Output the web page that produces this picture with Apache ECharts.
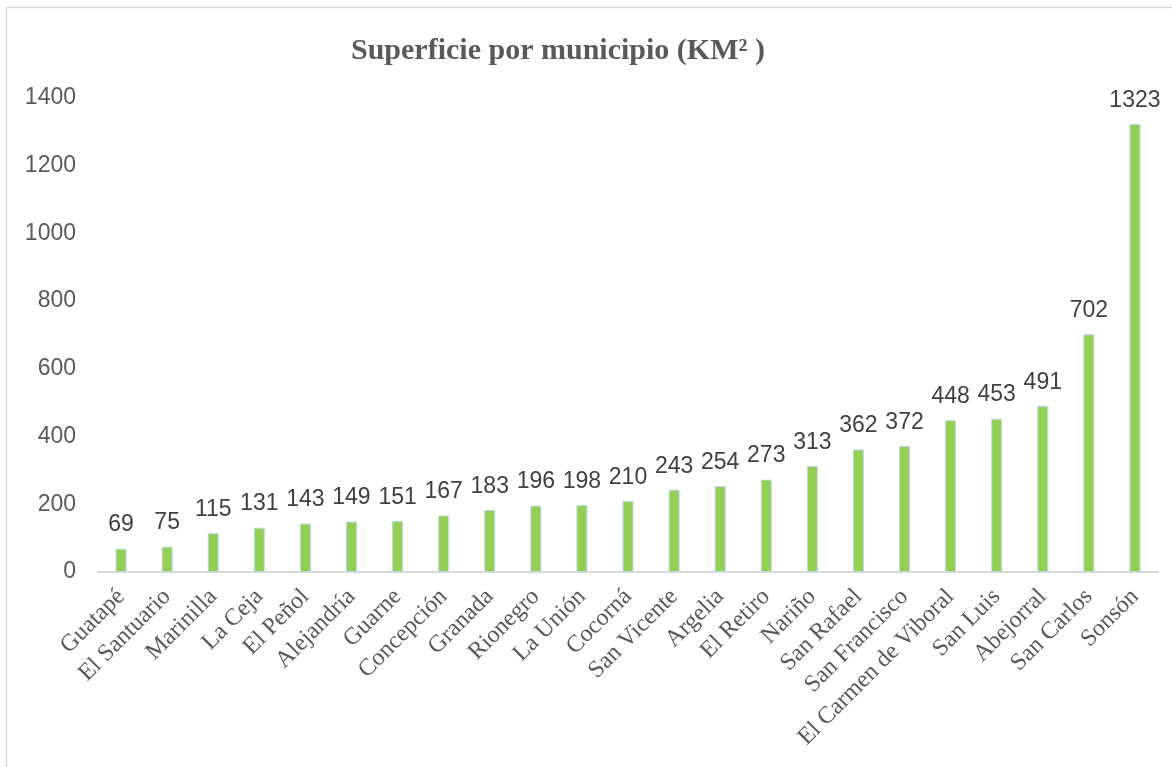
<!DOCTYPE html>
<html>
<head>
<meta charset="utf-8">
<script src="https://cdn.jsdelivr.net/npm/echarts@6/dist/echarts.min.js"></script>
<style>
  html, body { margin: 0; padding: 0; background: #fff; }
  #chart { width: 1172px; height: 767px; }
</style>
</head>
<body>
<div id="chart"></div>
<script>
// municipios ordenados por superficie
const municipios = ['Guatapé', 'El Santuario', 'Marinilla', 'La Ceja', 'El Peñol', 'Alejandría', 'Guarne',
  'Concepción', 'Granada', 'Rionegro', 'La Unión', 'Cocorná', 'San Vicente', 'Argelia', 'El Retiro',
  'Nariño', 'San Rafael', 'San Francisco', 'El Carmen de Viboral', 'San Luis', 'Abejorral', 'San Carlos', 'Sonsón'];
const superficie = [69, 75, 115, 131, 143, 149, 151, 167, 183, 196, 198, 210, 243, 254, 273,
  313, 362, 372, 448, 453, 491, 702, 1323];

const myChart = echarts.init(document.getElementById('chart'));

const option = {
    animation: false,
    title: {
        text: 'Superficie por municipio (KM² )',
        left: 346,
        top: 31,
        textStyle: {
            fontFamily: 'Liberation Serif',
            fontWeight: 'bold',
            fontSize: 30,
            color: '#595959'
        }
    },
    graphic: [
        {
            type: 'rect',
            shape: { x: 6.5, y: 7.5, width: 1250, height: 800 },
            style: { fill: 'none', stroke: '#d9d9d9', lineWidth: 1.5 },
            silent: true
        }
    ],
    grid: {
        left: 98,
        right: 14,
        top: 98,
        bottom: 195
    },
    xAxis: {
        type: 'category',
        data: municipios,
        axisLine: { lineStyle: { color: '#d9d9d9', width: 2 } },
        axisTick: { show: false },
        axisLabel: {
            interval: 0,
            rotate: 45,
            margin: 21,
            fontFamily: 'Liberation Serif',
            fontSize: 24,
            color: '#595959'
        }
    },
    yAxis: {
        type: 'value',
        min: 0,
        max: 1400,
        interval: 200,
        splitLine: { show: false },
        axisLine: { show: false },
        axisTick: { show: false },
        axisLabel: {
            margin: 22,
            formatter: function (v) { return String(v); },
            fontFamily: 'Liberation Sans',
            fontSize: 23,
            color: '#595959'
        }
    },
    series: [
        {
            name: 'Superficie',
            type: 'bar',
            data: superficie,
            barWidth: 11,
            itemStyle: {
                color: '#92d050',
                borderColor: '#bdd7ee',
                borderWidth: 1
            },
            label: {
                show: true,
                position: 'top',
                distance: 12,
                fontFamily: 'Liberation Sans',
                fontSize: 23,
                color: '#404040'
            }
        }
    ]
};

myChart.setOption(option);
</script>
</body>
</html>
